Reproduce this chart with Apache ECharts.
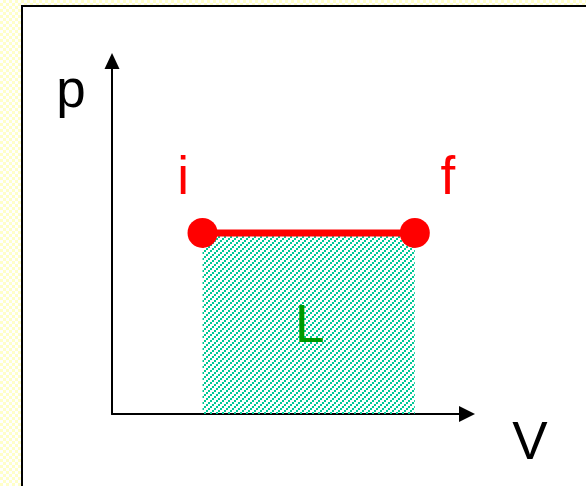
<!DOCTYPE html>
<html>
<head>
<meta charset="utf-8">
<script src="https://cdn.jsdelivr.net/npm/echarts@6/dist/echarts.min.js"></script>
<style>
html, body { margin: 0; padding: 0; }
body { background: repeating-conic-gradient(#ffffc8 0 25%, #ffffff 0 50%) 0 0 / 6px 6px; }
#chart { width: 586px; height: 486px; }
</style>
</head>
<body>
<div id="chart"></div>
<script>
// isobaric process: i -> f at constant p
var volumes = [2.55, 8.53];
var pressures = [5.13, 5.13];
var stateNames = ['i', 'f'];
var axisNames = { x: 'V', y: 'p' };
var workLabel = 'L';

var FONT = "'Liberation Sans', Arial, sans-serif";

/**
 * hatch tile for the work area
 */
function hatchTile() {
    var c = document.createElement('canvas');
    c.width = 6;
    c.height = 6;
    var ctx = c.getContext('2d');
    ctx.fillStyle = '#00c896';
    ctx.fillRect(0, 4, 2, 2);
    ctx.fillRect(2, 2, 2, 2);
    ctx.fillRect(4, 0, 2, 2);
    return c;
}

var chart = echarts.init(document.getElementById('chart'));

var points = volumes.map(function(v, i) {
    return {
        name: stateNames[i],
        value: [v, pressures[i]],
        label: {
            offset: i === 0 ? [-19.5, -54] : [33, -54]
        }
    };
});

var option = {
    animation: false,
    grid: {
        left: 112,
        top: 61,
        right: 119,
        bottom: 72
    },
    xAxis: {
        type: 'value',
        min: 0,
        max: 10,
        axisLine: {
            onZero: false,
            symbol: ['none', 'triangle'],
            symbolSize: [16, 16],
            lineStyle: { color: '#000', width: 2 }
        },
        axisTick: { show: false },
        axisLabel: { show: false },
        splitLine: { show: false }
    },
    yAxis: {
        type: 'value',
        min: 0,
        max: 10,
        axisLine: {
            show: true,
            onZero: false,
            symbol: ['none', 'triangle'],
            symbolSize: [15, 16],
            lineStyle: { color: '#000', width: 2 }
        },
        axisTick: { show: false },
        axisLabel: { show: false },
        splitLine: { show: false }
    },
    graphic: [{
        id: 'frame',
        type: 'rect',
        z: -10,
        shape: { x: 22, y: 6, width: 700, height: 600 },
        style: { fill: '#fff', stroke: '#000', lineWidth: 2 }
    }, {
        id: 'pName',
        type: 'text',
        z: 100,
        x: 71,
        y: 92,
        style: {
            text: axisNames.y,
            font: '53px ' + FONT,
            fill: '#000',
            align: 'center',
            verticalAlign: 'middle'
        }
    }, {
        id: 'vName',
        type: 'text',
        z: 100,
        x: 530,
        y: 444,
        style: {
            text: axisNames.x,
            font: '53px ' + FONT,
            fill: '#000',
            align: 'center',
            verticalAlign: 'middle'
        }
    }],
    series: [{
        type: 'line',
        data: points,
        symbol: 'circle',
        symbolSize: 30,
        itemStyle: { color: '#ff0000' },
        lineStyle: { color: '#ff0000', width: 7 },
        areaStyle: {
            color: { image: hatchTile(), repeat: 'repeat' },
            opacity: 1
        },
        label: {
            show: true,
            position: 'inside',
            formatter: '{b}',
            color: '#ff0000',
            fontSize: 53,
            fontFamily: FONT,
            align: 'center',
            verticalAlign: 'middle'
        }
    }]
};
chart.setOption(option);

// L in the middle of the area under the line
var mid = chart.convertToPixel({ gridIndex: 0 }, [
    (volumes[0] + volumes[1]) / 2,
    pressures[0] / 2
]);
chart.setOption({
    graphic: [{
        id: 'work',
        type: 'text',
        z: 100,
        x: mid[0] + 1,
        y: mid[1] + 4,
        style: {
            text: workLabel,
            font: '53px ' + FONT,
            fill: '#009900',
            align: 'center',
            verticalAlign: 'middle'
        }
    }]
});
</script>
</body>
</html>
